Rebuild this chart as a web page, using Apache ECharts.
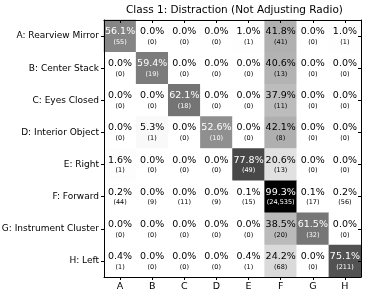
<!DOCTYPE html>
<html><head><meta charset="utf-8">
<script src="https://cdn.jsdelivr.net/npm/echarts@6/dist/echarts.min.js"></script>
<style>html,body{margin:0;padding:0;background:#fff}#c{width:369px;height:298px}</style>
</head><body><div id="c"></div>
<script>
const title = "Class 1: Distraction (Not Adjusting Radio)";
const rowLabels = ["A: Rearview Mirror","B: Center Stack","C: Eyes Closed","D: Interior Object","E: Right","F: Forward","G: Instrument Cluster","H: Left"];
const colLabels = ["A","B","C","D","E","F","G","H"];
const percents = [
  [56.1,0.0,0.0,0.0,1.0,41.8,0.0,1.0],
  [0.0,59.4,0.0,0.0,0.0,40.6,0.0,0.0],
  [0.0,0.0,62.1,0.0,0.0,37.9,0.0,0.0],
  [0.0,5.3,0.0,52.6,0.0,42.1,0.0,0.0],
  [1.6,0.0,0.0,0.0,77.8,20.6,0.0,0.0],
  [0.2,0.0,0.0,0.0,0.1,99.3,0.1,0.2],
  [0.0,0.0,0.0,0.0,0.0,38.5,61.5,0.0],
  [0.4,0.0,0.0,0.0,0.4,24.2,0.0,75.1]
];
const counts = [
  [55,0,0,0,1,41,0,1],
  [0,19,0,0,0,13,0,0],
  [0,0,18,0,0,11,0,0],
  [0,1,0,10,0,8,0,0],
  [1,0,0,0,49,13,0,0],
  [44,9,11,9,15,24535,17,56],
  [0,0,0,0,0,20,32,0],
  [1,0,0,0,1,68,0,211]
];
const greys = ['#ffffff','#f0f0f0','#d9d9d9','#bdbdbd','#969696','#737373','#525252','#252525','#000000'];

const data = [];
for (let r = 0; r < rowLabels.length; r++) {
  for (let c = 0; c < colLabels.length; c++) {
    const p = percents[r][c];
    data.push({
      value: [c, r, p, counts[r][c]],
      label: { color: p > 50 ? '#ffffff' : '#000000' }
    });
  }
}
const font = 'DejaVu Sans';
const chart = echarts.init(document.getElementById('c'), null, {renderer:'canvas'});
chart.setOption({
  animation: false,
  backgroundColor: '#fff',
  textStyle: { fontFamily: font },
  title: { text: title, left: 126, top: 5, padding: 0,
    textStyle: { fontFamily: font, fontSize: 10.5, fontWeight: 'normal', color: '#000' } },
  grid: { left: 104, top: 20, width: 257, height: 257, show: false, containLabel: false, outerBoundsMode: 'none' },
  xAxis: [{
    type: 'category', data: colLabels, position: 'bottom',
    axisLine: { show: true, lineStyle: { color: '#000', width: 1 } },
    axisTick: { show: true, alignWithLabel: true, length: 3, lineStyle: { color: '#000' } },
    axisLabel: { fontFamily: font, fontSize: 9.5, color: '#000', margin: 5 },
    splitLine: { show: false }, z: 10
  },{
    type: 'category', data: colLabels, position: 'top',
    axisLine: { show: true, lineStyle: { color: '#000', width: 1 } },
    axisTick: { show: true, alignWithLabel: true, inside: true, length: 3, lineStyle: { color: '#000' } },
    axisLabel: { show: false }, splitLine: { show: false }, z: 10
  }],
  yAxis: [{
    type: 'category', data: rowLabels, inverse: true, position: 'left',
    axisLine: { show: true, lineStyle: { color: '#000', width: 1 } },
    axisTick: { show: true, alignWithLabel: true, length: 3, lineStyle: { color: '#000' } },
    axisLabel: { fontFamily: font, fontSize: 9, color: '#000', margin: 5 },
    splitLine: { show: false }, z: 10
  },{
    type: 'category', data: rowLabels, inverse: true, position: 'right',
    axisLine: { show: true, lineStyle: { color: '#000', width: 1 } },
    axisTick: { show: true, alignWithLabel: true, inside: true, length: 3, lineStyle: { color: '#000' } },
    axisLabel: { show: false }, splitLine: { show: false }, z: 10
  }],
  visualMap: { show: false, min: 0, max: 100, dimension: 2, inRange: { color: greys } },
  series: [{
    type: 'heatmap', data: data, xAxisIndex: 0, yAxisIndex: 0,
    label: {
      show: true,
      formatter: function (p) {
        return '{a|' + p.value[2].toFixed(1) + '%}\n{b|(' + p.value[3].toLocaleString('en-US') + ')}';
      },
      rich: {
        a: { fontFamily: font, fontSize: 9.5, lineHeight: 12 },
        b: { fontFamily: font, fontSize: 6.5, lineHeight: 9 }
      }
    },
    itemStyle: { borderWidth: 0 },
    emphasis: { disabled: true }
  }]
});
</script></body></html>
